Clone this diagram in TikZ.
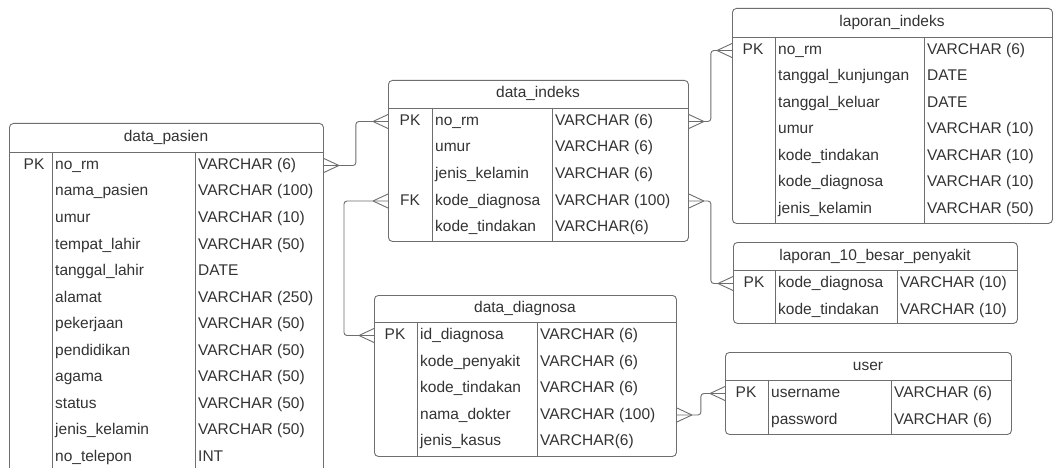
\documentclass[tikz,border=0pt]{standalone}
\usepackage{fontspec}
\setmainfont{Liberation Sans}
\usetikzlibrary{calc}
\definecolor{erline}{HTML}{6E6E6E}
\definecolor{ertext}{HTML}{333333}

\begin{document}
\begin{tikzpicture}[
    x=1pt, y=-1pt,
    tablebox/.style={draw=erline, line width=0.9pt, rounded corners=4pt, anchor=north west, inner sep=0pt},
    tabletitle/.style={text=ertext, font=\fontsize{15.5}{18}\selectfont, text height=11.5pt, text depth=3.5pt, inner sep=0pt},
    keycol/.style={tabletitle},
    fieldcol/.style={tabletitle, anchor=west, inner xsep=3pt},
    tableline/.style={draw=erline, line width=0.9pt},
    rel/.style={draw=erline, line width=0.9pt, rounded corners=3pt},
    crow/.pic={\draw[erline, line width=0.9pt] (-15,0) -- (0,-7) (-15,0) -- (0,7);}
  ]
    \fill[white] (0,0) rectangle (1053,468);
    \clip (0,0) rectangle (1053,468);

    % data_pasien
    \node[tablebox, minimum width=314, minimum height=352] (pasien) at (9,123) {};
    \node[tabletitle] (pasien-title) at (166,137.5) {data\_pasien};
    \draw[tableline] (9,152) -- (323,152);
    \draw[tableline] (52,152) -- (52,475);
    \draw[tableline] (195,152) -- (195,475);
    \foreach \k/\f/\t [count=\i, evaluate=\i as \y using 165.5+26.5*(\i-1)] in {
        PK/no\_rm/VARCHAR (6), {}/nama\_pasien/VARCHAR (100), {}/umur/VARCHAR (10),
        {}/tempat\_lahir/VARCHAR (50), {}/tanggal\_lahir/DATE, {}/alamat/VARCHAR (250),
        {}/pekerjaan/VARCHAR (50), {}/pendidikan/VARCHAR (50), {}/agama/VARCHAR (50),
        {}/status/VARCHAR (50), {}/jenis\_kelamin/VARCHAR (50), {}/no\_telepon/INT} {
      \node[keycol] (pasien-k\i) at (34,\y) {\k};
      \node[fieldcol] (pasien-\i) at (52,\y) {\f};
      \node[fieldcol] (pasien-t\i) at (195,\y) {\t};
    }

    % data_indeks
    \node[tablebox, minimum width=300, minimum height=161] (indeks) at (388,80) {};
    \node[tabletitle] (indeks-title) at (538,94) {data\_indeks};
    \draw[tableline] (388,108) -- (688,108);
    \draw[tableline] (432,108) -- (432,241);
    \draw[tableline] (552,108) -- (552,241);
    \foreach \k/\f/\t [count=\i, evaluate=\i as \y using 121.5+26.5*(\i-1)] in {
        PK/no\_rm/VARCHAR (6), {}/umur/VARCHAR (6), {}/jenis\_kelamin/VARCHAR (6),
        FK/kode\_diagnosa/VARCHAR (100), {}/kode\_tindakan/VARCHAR(6)} {
      \node[keycol] (indeks-k\i) at (410,\y) {\k};
      \node[fieldcol] (indeks-\i) at (432,\y) {\f};
      \node[fieldcol] (indeks-t\i) at (552,\y) {\t};
    }

    % laporan_indeks
    \node[tablebox, minimum width=320, minimum height=215] (lapidx) at (732,8) {};
    \node[tabletitle] (lapidx-title) at (892,22.5) {laporan\_indeks};
    \draw[tableline] (732,37) -- (1052,37);
    \draw[tableline] (775,37) -- (775,223);
    \draw[tableline] (924,37) -- (924,223);
    \foreach \k/\f/\t [count=\i, evaluate=\i as \y using 50.5+26.5*(\i-1)] in {
        PK/no\_rm/VARCHAR (6), {}/tanggal\_kunjungan/DATE, {}/tanggal\_keluar/DATE,
        {}/umur/VARCHAR (10), {}/kode\_tindakan/VARCHAR (10), {}/kode\_diagnosa/VARCHAR (10),
        {}/jenis\_kelamin/VARCHAR (50)} {
      \node[keycol] (lapidx-k\i) at (753,\y) {\k};
      \node[fieldcol] (lapidx-\i) at (775,\y) {\f};
      \node[fieldcol] (lapidx-t\i) at (924,\y) {\t};
    }

    % laporan_10_besar_penyakit
    \node[tablebox, minimum width=284, minimum height=81] (lapsepuluh) at (733,242) {};
    \node[tabletitle] (lapsepuluh-title) at (875,256) {laporan\_10\_besar\_penyakit};
    \draw[tableline] (733,270) -- (1017,270);
    \draw[tableline] (775,270) -- (775,323);
    \draw[tableline] (897,270) -- (897,323);
    \foreach \k/\f/\t [count=\i, evaluate=\i as \y using 283.5+26.5*(\i-1)] in {
        PK/kode\_diagnosa/VARCHAR (10), {}/kode\_tindakan/VARCHAR (10)} {
      \node[keycol] (lapsepuluh-k\i) at (754,\y) {\k};
      \node[fieldcol] (lapsepuluh-\i) at (775,\y) {\f};
      \node[fieldcol] (lapsepuluh-t\i) at (897,\y) {\t};
    }

    % data_diagnosa
    \node[tablebox, minimum width=302, minimum height=161] (diagnosa) at (374,295) {};
    \node[tabletitle] (diagnosa-title) at (525,308.5) {data\_diagnosa};
    \draw[tableline] (374,322) -- (676,322);
    \draw[tableline] (417,322) -- (417,456);
    \draw[tableline] (537,322) -- (537,456);
    \foreach \k/\f/\t [count=\i, evaluate=\i as \y using 335.5+26.5*(\i-1)] in {
        PK/id\_diagnosa/VARCHAR (6), {}/kode\_penyakit/VARCHAR (6), {}/kode\_tindakan/VARCHAR (6),
        {}/nama\_dokter/VARCHAR (100), {}/jenis\_kasus/VARCHAR(6)} {
      \node[keycol] (diagnosa-k\i) at (395,\y) {\k};
      \node[fieldcol] (diagnosa-\i) at (417,\y) {\f};
      \node[fieldcol] (diagnosa-t\i) at (537,\y) {\t};
    }

    % user
    \node[tablebox, minimum width=286, minimum height=82] (user) at (725,352) {};
    \node[tabletitle] (user-title) at (868,366) {user};
    \draw[tableline] (725,380) -- (1011,380);
    \draw[tableline] (768,380) -- (768,434);
    \draw[tableline] (891,380) -- (891,434);
    \foreach \k/\f/\t [count=\i, evaluate=\i as \y using 393.5+26.5*(\i-1)] in {
        PK/username/VARCHAR (6), {}/password/VARCHAR (6)} {
      \node[keycol] (user-k\i) at (746,\y) {\k};
      \node[fieldcol] (user-\i) at (768,\y) {\f};
      \node[fieldcol] (user-t\i) at (891,\y) {\t};
    }

    % Relations
    \draw[rel] (pasien.east |- pasien-1) -- ++(32,0) |- (indeks.west |- indeks-1);
    \pic[rotate=180] at (pasien.east |- pasien-1) {crow};
    \pic at (indeks.west |- indeks-1) {crow};

    \draw[rel] (indeks.west |- indeks-4) -| ($(diagnosa.west |- diagnosa-1)+(-30,0)$) -- (diagnosa.west |- diagnosa-1);
    \pic at (indeks.west |- indeks-4) {crow};
    \pic at (diagnosa.west |- diagnosa-1) {crow};

    \draw[rel] (indeks.east |- indeks-1) -- ++(22,0) |- (lapidx.west |- lapidx-1);
    \pic[rotate=180] at (indeks.east |- indeks-1) {crow};
    \pic at (lapidx.west |- lapidx-1) {crow};

    \draw[rel] (indeks.east |- indeks-4) -- ++(22,0) |- (lapsepuluh.west |- lapsepuluh-1);
    \pic[rotate=180] at (indeks.east |- indeks-4) {crow};
    \pic at (lapsepuluh.west |- lapsepuluh-1) {crow};

    \draw[rel] (diagnosa.east |- diagnosa-4) -- ++(24,0) |- (user.west |- user-1);
    \pic[rotate=180] at (diagnosa.east |- diagnosa-4) {crow};
    \pic at (user.west |- user-1) {crow};
  \end{tikzpicture}
\end{document}
